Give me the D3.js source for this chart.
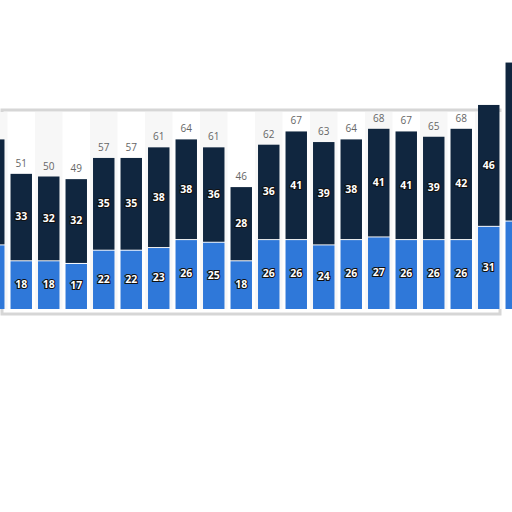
<!DOCTYPE html>
<html>
<head>
<meta charset="utf-8">
<script src="https://cdn.jsdelivr.net/npm/d3@7"></script>
<style>
  body { margin: 0; background: #fff; }
  svg { display: block; font-family: "Open Sans", "DejaVu Sans", sans-serif; }
</style>
</head>
<body>
<svg id="chart" width="512" height="512"></svg>
<script>
// values (first and last bars are cut by the crop)
const categories = d3.range(20).map(i => `c${i}`);
const lowerValues = [24, 18, 18, 17, 22, 22, 23, 26, 25, 18, 26, 26, 24, 26, 27, 26, 26, 26, 31, 33];
const upperValues = [40, 33, 32, 32, 35, 35, 38, 38, 36, 28, 36, 41, 39, 38, 41, 41, 39, 42, 46, 60];
const showTotals = categories.map((c, i) => i > 0 && i < 18);

const svg = d3.select('#chart');
const baseY = 309;

const x = d3.scaleBand()
  .domain(categories)
  .range([-20, -20 + 20 * 27.5])
  .paddingInner(0.22)
  .paddingOuter(0.11);

const y = d3.scaleLinear().domain([0, 100]).range([baseY, baseY - 265]);

// panel
svg.append('rect')
  .attr('x', 2).attr('y', 110).attr('width', 498).attr('height', 204)
  .attr('fill', '#fff').attr('stroke', '#d6d6d6').attr('stroke-width', 3);

// faint alternating stripes
svg.selectAll('rect.stripe')
  .data(categories.filter((c, i) => i % 2 === 0))
  .join('rect')
  .attr('class', 'stripe')
  .attr('x', d => x(d) - x.step() * 0.11)
  .attr('y', 112)
  .attr('width', x.step())
  .attr('height', baseY - 112)
  .attr('fill', '#f7f7f7');

const rows = categories.map((c, i) => ({
  cat: c, lower: lowerValues[i], upper: upperValues[i],
  total: lowerValues[i] + upperValues[i], show: showTotals[i]
}));

const g = svg.append('g');

g.selectAll('rect.lower')
  .data(rows)
  .join('rect')
  .attr('x', d => x(d.cat))
  .attr('y', d => y(d.lower))
  .attr('width', x.bandwidth())
  .attr('height', d => baseY - y(d.lower))
  .attr('fill', '#2f78d9');

g.selectAll('rect.upper')
  .data(rows)
  .join('rect')
  .attr('x', d => x(d.cat))
  .attr('y', d => y(d.total))
  .attr('width', x.bandwidth())
  .attr('height', d => y(d.lower) - y(d.total) - 1)
  .attr('fill', '#10263f');

function inner(sel, yFn, text) {
  sel.append('text')
    .attr('x', d => x(d.cat) + x.bandwidth() / 2)
    .attr('y', yFn)
    .attr('text-anchor', 'middle')
    .attr('dominant-baseline', 'middle')
    .attr('font-size', 10.5)
    .attr('font-weight', 'bold')
    .attr('fill', '#fff')
    .attr('stroke', '#111')
    .attr('stroke-width', 2.2)
    .attr('paint-order', 'stroke')
    .text(text);
}

const labels = g.selectAll('g.lab').data(rows.filter((d, i) => i > 0 && i < 19)).join('g');
inner(labels, d => (y(d.lower) + baseY) / 2, d => d.lower);
inner(labels, d => (y(d.lower) + y(d.total)) / 2, d => d.upper);

g.selectAll('text.total')
  .data(rows.filter(d => d.show))
  .join('text')
  .attr('x', d => x(d.cat) + x.bandwidth() / 2)
  .attr('y', d => y(d.total) - 7)
  .attr('text-anchor', 'middle')
  .attr('font-size', 10)
  .attr('fill', '#666')
  .text(d => d.total);
</script>
</body>
</html>
